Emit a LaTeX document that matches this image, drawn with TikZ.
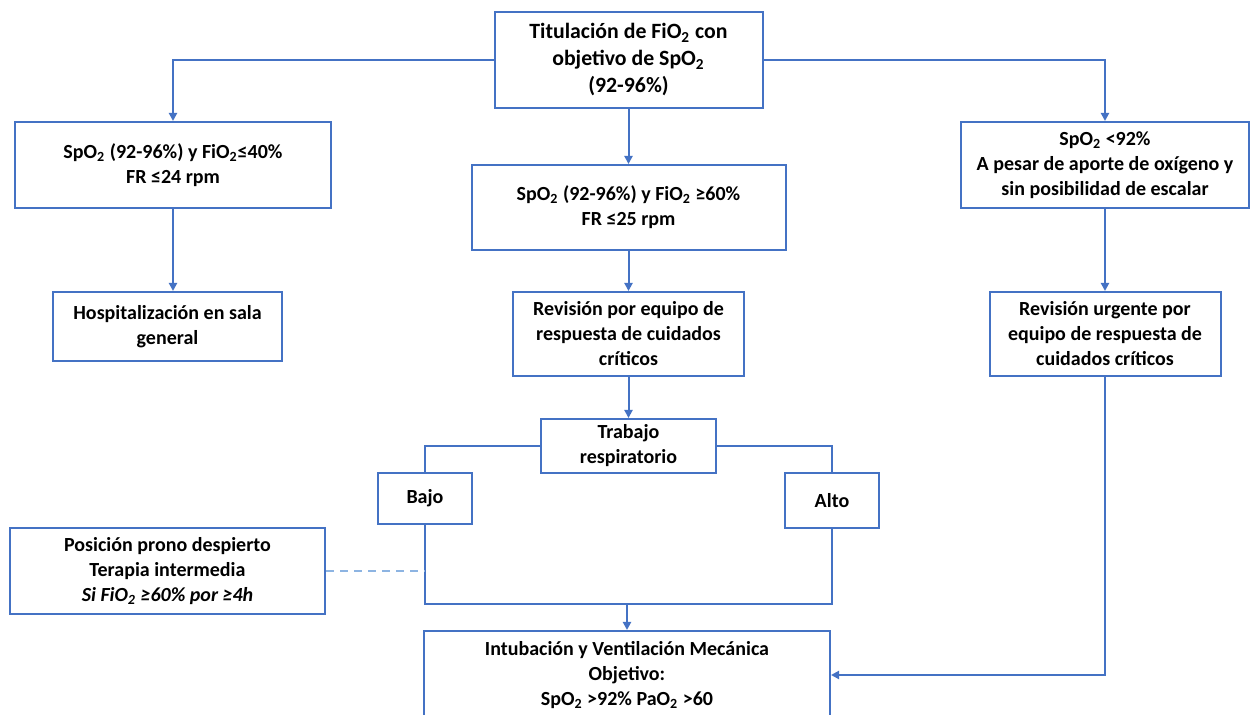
\documentclass[tikz,border=0pt]{standalone}
\usepackage{fontspec}
\setmainfont{Carlito}
\usetikzlibrary{arrows.meta}
\definecolor{lb}{HTML}{4472C4}
\definecolor{dl}{HTML}{8DB4E2}
\newcommand{\two}{\textsubscript{2}}
\begin{document}
\begin{tikzpicture}[x=0.5pt,y=-0.5pt,
  box/.style={draw=lb,line width=1pt,fill=white,align=center,inner sep=0pt,
    font=\bfseries\fontsize{10}{12.5}\selectfont},
  link/.style={draw=lb,line width=1pt},
  arr/.style={link,-{Triangle[length=4pt,width=4pt]}}]
\useasboundingbox (0,0) rectangle (1250,715);
\fill[white] (0,0) rectangle (1250,715);

\node[box,minimum width=134pt,minimum height=48pt,font=\bfseries\fontsize{10.9}{13.5}\selectfont] (top) at (628.5,60)
  {Titulación de FiO\two{} con\\objetivo de SpO\two\\(92-96\%)};
\node[box,minimum width=158pt,minimum height=43pt] (left) at (173,165)
  {SpO\two{} (92-96\%) y FiO\two≤40\%\\FR ≤24 rpm};
\node[box,minimum width=114.5pt,minimum height=34.5pt] (hosp) at (167.5,326.5)
  {Hospitalización en sala\\general};
\node[box,minimum width=157pt,minimum height=42.5pt] (mid) at (628.5,207.5)
  {SpO\two{} (92-96\%) y FiO\two{} ≥60\%\\FR ≤25 rpm};
\node[box,minimum width=115.5pt,minimum height=42pt] (rev) at (628.5,334)
  {Revisión por equipo de\\respuesta de cuidados\\críticos};
\node[box,minimum width=87.5pt,minimum height=27pt] (trab) at (628.5,446)
  {Trabajo\\respiratorio};
\node[box,minimum width=47pt,minimum height=25.5pt] (bajo) at (425,498.5) {Bajo};
\node[box,minimum width=47pt,minimum height=27.5pt] (alto) at (832,500.5) {Alto};
\node[box,minimum width=157.5pt,minimum height=43pt] (prono) at (167.5,571)
  {Posición prono despierto\\Terapia intermedia\\\textit{Si FiO\two{} ≥60\% por ≥4h}};
\node[box,minimum width=203pt,minimum height=44pt] (intub) at (627,675)
  {Intubación y Ventilación Mecánica\\Objetivo:\\SpO\two{} >92\% PaO\two{} >60};
\node[box,minimum width=144pt,minimum height=43pt] (right) at (1105,165)
  {SpO\two{} <92\%\\A pesar de aporte de oxígeno y\\sin posibilidad de escalar};
\node[box,minimum width=115.5pt,minimum height=42pt] (urg) at (1105,334)
  {Revisión urgente por\\equipo de respuesta de\\cuidados críticos};

\coordinate (j) at (627,604);

\draw[arr] (top.west) -| (left.north);
\draw[arr] (top.east) -| (right.north);
\draw[arr] (top.south) -- (mid.north);
\draw[arr] (left.south) -- (left.south |- hosp.north);
\draw[arr] (mid.south) -- (rev.north);
\draw[arr] (rev.south) -- (trab.north);
\draw[arr] (right.south) -- (urg.north);
\draw[link] (trab.west) -| (bajo.north);
\draw[link] (trab.east) -| (alto.north);
\draw[link] (bajo.south) |- (j) -| (alto.south);
\draw[arr] (j) -- (intub.north);
\draw[arr] (urg.south) |- (intub.east);
\draw[draw=dl,line width=1pt,dash pattern=on 4pt off 3pt] (prono.east) -- (bajo.south |- prono.east);
\end{tikzpicture}
\end{document}
